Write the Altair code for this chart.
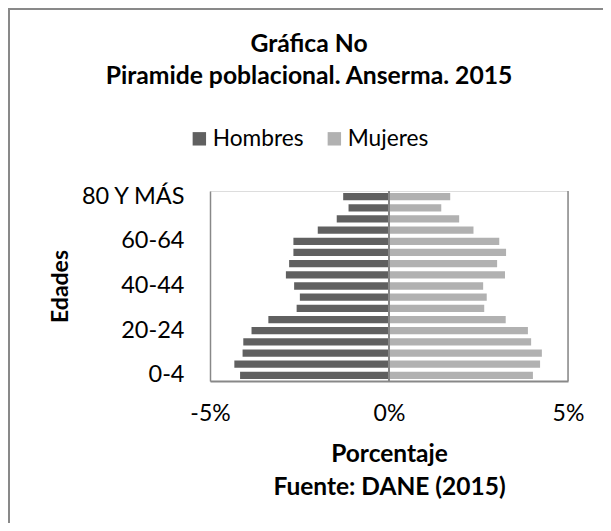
import altair as alt
import pandas as pd

ages = ["0-4", "5-9", "10-14", "15-19", "20-24", "25-29", "30-34", "35-39",
        "40-44", "45-49", "50-54", "55-59", "60-64", "65-69", "70-74",
        "75-79", "80 Y MÁS"]
hombres = [4.16, 4.32, 4.09, 4.07, 3.84, 3.37, 2.58, 2.49, 2.65, 2.88,
           2.79, 2.67, 2.67, 1.99, 1.46, 1.13, 1.28]
mujeres = [4.02, 4.22, 4.27, 3.97, 3.88, 3.26, 2.66, 2.73, 2.63, 3.24,
           3.02, 3.27, 3.08, 2.36, 1.96, 1.46, 1.71]
series = ["Hombres", "Mujeres"]
colors = ["#606060", "#b1b1b1"]
y_labels = ["0-4", "20-24", "40-44", "60-64", "80 Y MÁS"]
x_ticks = [-5, 0, 5]

rows = []
for a, h, m in zip(ages, hombres, mujeres):
    rows.append({"edad": a, "sexo": "Hombres", "valor": -h})
    rows.append({"edad": a, "sexo": "Mujeres", "valor": m})
df = pd.DataFrame(rows)

W, H = 358, 190
FONT = "Lato"

bars = alt.Chart(df).mark_bar().encode(
    y=alt.Y("edad:N", sort=list(reversed(ages)),
            scale=alt.Scale(paddingInner=0.35, paddingOuter=0.18),
            axis=alt.Axis(values=y_labels, title="Edades", ticks=False,
                          labelPadding=26, labelFontSize=23.5, labelColor="#000",
                          labelFont=FONT, titleFont=FONT, titleFontSize=23,
                          titleFontWeight="bold", titleColor="#000",
                          titlePadding=7, domainColor="#888888",
                          domainWidth=1.5, grid=False)),
    x=alt.X("valor:Q", scale=alt.Scale(domain=[-5, 5], nice=False),
            axis=alt.Axis(values=x_ticks, labelExpr="datum.value + '%'",
                          title=["Porcentaje", "Fuente: DANE (2015)"],
                          ticks=False, grid=False, labelPadding=21,
                          labelFontSize=23, labelColor="#000", labelFont=FONT,
                          labelFlush=False,
                          titleFont=FONT, titleFontSize=24.5, titleFontWeight="bold",
                          titleColor="#000", titleLineHeight=33, titlePadding=17,
                          domainColor="#888888", domainWidth=2)),
    color=alt.Color("sexo:N", scale=alt.Scale(domain=series, range=colors),
                    legend=alt.Legend(title=None, orient="none", direction="horizontal",
                                      legendX=-22, legendY=-64,
                                      symbolType="square", symbolSize=180,
                                      symbolStrokeWidth=0, labelFontSize=22.7,
                                      labelFont=FONT, labelColor="#000",
                                      columnPadding=19, labelOffset=2)),
)

zero = alt.Chart(pd.DataFrame({"x": [0]})).mark_rule(
    color="#868686", strokeWidth=2).encode(x="x:Q")

right = alt.Chart(pd.DataFrame({"x": [0]})).mark_rule(
    color="#888888", strokeWidth=1.5).encode(
    x=alt.value(W), y=alt.value(0), y2=alt.value(H))

border = alt.Chart(pd.DataFrame({"x": [0]})).mark_rect(
    fill=None, stroke="#898989", strokeWidth=2).encode(
    x=alt.value(-201), x2=alt.value(W + 120),
    y=alt.value(-182), y2=alt.value(H + 250))

chart = alt.layer(border, bars, zero, right).properties(
    width=W, height=H,
    autosize=alt.AutoSizeParams(type="none"),
    padding={"left": 202, "top": 183, "right": 35, "bottom": 142},
    title=alt.Title(["Gráfica No", "Piramide poblacional. Anserma. 2015"],
                    anchor="middle", dx=-80, dy=121, offset=40, fontSize=24.7,
                    font=FONT, fontWeight="bold", color="#000", lineHeight=32),
).configure_view(stroke=None).configure(background="white")

chart.save("out.html", embed_options={"renderer": "svg", "actions": False})
